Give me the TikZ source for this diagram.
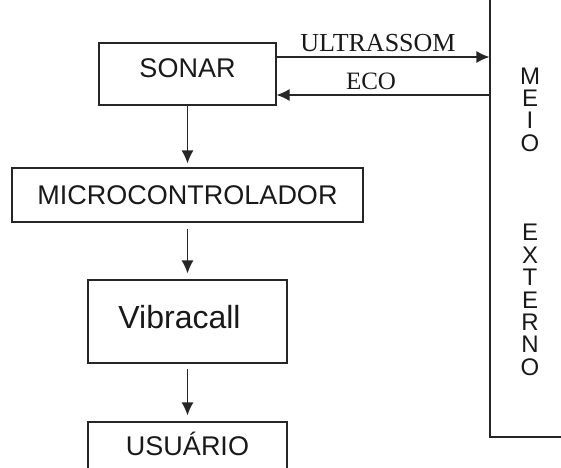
\documentclass[tikz,border=0pt]{standalone}
\usepackage{fontspec}
\setmainfont{Liberation Sans}
\newfontfamily\timesfont{Liberation Serif}
\usetikzlibrary{arrows.meta}
\tikzset{>={Latex[length=13pt,width=12pt]}}
\tikzset{bloco/.style={rectangle, draw=black!85, line width=1.2pt, inner sep=0pt, text=black!90, text height=19.3pt, text depth=0pt, font=\fontsize{27}{30}\selectfont},
  seta/.style={->, line width=1.2pt, draw=black!85}}

\begin{document}
\begin{tikzpicture}[x=1pt, y=-1pt]
\useasboundingbox (0,0) rectangle (561,467);

\node[bloco, minimum width=177pt, minimum height=62pt, text depth=12pt] (sonar) at (187.5,74) {SONAR};
\node[bloco, minimum width=351pt, minimum height=54pt] (micro) at (187.5,195) {MICROCONTROLADOR};
\node[bloco, minimum width=199pt, minimum height=83pt, text height=23pt, text depth=10pt, font=\fontsize{32}{36}\selectfont] (vibra) at (187.5,321.5) {Vibracall\rule{16pt}{0pt}};
\node[bloco, minimum width=199pt, minimum height=48pt] (usuario) at (187.5,446) {USUÁRIO};

%meio externo, cortado pela borda
\node[bloco, minimum width=90pt, minimum height=447pt] (meio) at (535,213.5) {};
\node[text=black!90, align=center, font=\fontsize{24}{22.4}\selectfont] (meiotxt) at (530,221.5) {M\\E\\I\\O\\[67.2pt]E\\X\\T\\E\\R\\N\\O};

\draw[seta, shorten >=4pt] (sonar.south) -- (micro.north);
\draw[seta, shorten <=6pt, shorten >=6pt] (micro.south) -- (vibra.north);
\draw[seta, shorten <=5pt, shorten >=6pt] (vibra.south) -- (usuario.north);

\draw[seta] ([yshift=17pt]sonar.east) -- ([yshift=17pt]sonar.east -| meio.west)
  node[midway, above, inner sep=5pt, xshift=-5pt, text=black!90, font=\timesfont\fontsize{26}{30}\selectfont] (ultra) {ULTRASSOM};
\draw[seta, <-] ([yshift=-21pt]sonar.east) -- ([yshift=-21pt]sonar.east -| meio.west)
  node[midway, above, inner sep=5pt, xshift=-12pt, text=black!90, font=\timesfont\fontsize{25}{30}\selectfont] (eco) {ECO};
\end{tikzpicture}
\end{document}
